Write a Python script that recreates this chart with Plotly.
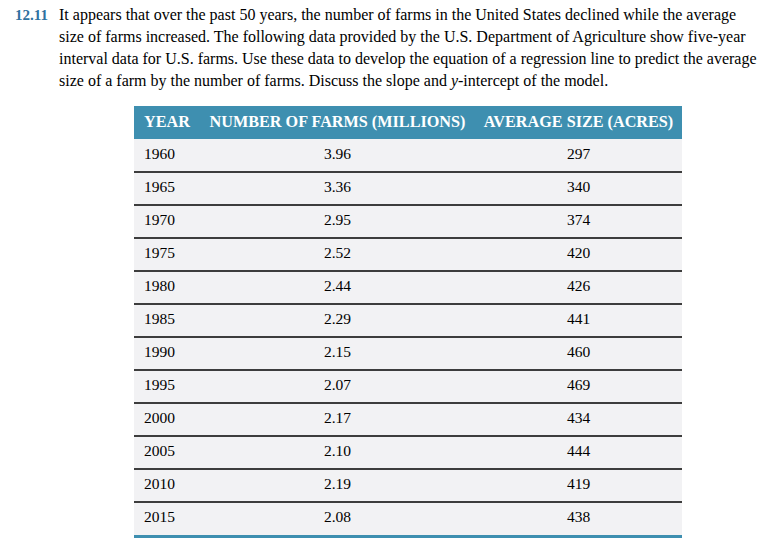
import plotly.graph_objects as go

# data from the table
years = [1960, 1965, 1970, 1975, 1980, 1985, 1990, 1995, 2000, 2005, 2010, 2015]
farms_millions = [3.96, 3.36, 2.95, 2.52, 2.44, 2.29, 2.15, 2.07, 2.17, 2.10, 2.19, 2.08]
avg_size_acres = [297, 340, 374, 420, 426, 441, 460, 469, 434, 444, 419, 438]
headers = ["YEAR", "NUMBER OF FARMS (MILLIONS)", "AVERAGE SIZE (ACRES)"]

problem_no = "12.11"
problem_lines = [
    "It appears that over the past 50 years, the number of farms in the United States declined while the average",
    "size of farms increased. The following data provided by the U.S. Department of Agriculture show five-year",
    "interval data for U.S. farms. Use these data to develop the equation of a regression line to predict the average",
    "size of a farm by the number of farms. Discuss the slope and <i>y</i>-intercept of the model.",
]

# page body has an 8px margin, so the figure is drawn from (8, 8)
OFF = 8
W, H = 778 - OFF, 549 - OFF
TEAL = "#3e8fb0"
BODY = "#f2f2f4"
FONT = "Times New Roman, Liberation Serif, serif"

# table geometry in screen pixels; the x axis runs in screen pixels
tbl_left, tbl_right = 134, 682
col_x = [144, 337.5, 578.5]
tbl_top, row_h = 106, 33.0
n_rows = len(years) + 1
extra = 0.25  # room below the last row for the bottom rule
tbl_bottom = tbl_top + (n_rows + extra) * row_h


def py(p):
    # screen pixel row -> paper y
    return 1 - (p - OFF) / H


fig = go.Figure()

rows = list(range(1, len(years) + 1))
fig.add_trace(go.Scatter(x=[col_x[0]] * len(years), y=rows, text=[str(y) for y in years],
                         mode="text", textposition="middle right",
                         textfont=dict(family=FONT, size=15.5, color="black")))
fig.add_trace(go.Scatter(x=[col_x[1]] * len(years), y=rows, text=[f"{v:.2f}" for v in farms_millions],
                         mode="text", textposition="middle center",
                         textfont=dict(family=FONT, size=15.5, color="black")))
fig.add_trace(go.Scatter(x=[col_x[2]] * len(years), y=rows, text=[str(v) for v in avg_size_acres],
                         mode="text", textposition="middle center",
                         textfont=dict(family=FONT, size=15.5, color="black")))
# header
fig.add_trace(go.Scatter(x=col_x, y=[0, 0, 0], text=[f"<b>{h}</b>" for h in headers],
                         mode="text", textposition=["middle right", "middle center", "middle center"],
                         textfont=dict(family=FONT, size=16.2, color="white")))

# backgrounds and rules
fig.add_shape(type="rect", xref="x", yref="y", x0=tbl_left, x1=tbl_right, y0=-0.5, y1=0.5,
              fillcolor=TEAL, line_width=0, layer="below")
fig.add_shape(type="rect", xref="x", yref="y", x0=tbl_left, x1=tbl_right, y0=0.5, y1=len(years) + 0.5,
              fillcolor=BODY, line_width=0, layer="below")
for r in rows[:-1]:
    fig.add_shape(type="line", xref="x", yref="y", x0=tbl_left, x1=tbl_right, y0=r + 0.5, y1=r + 0.5,
                  line=dict(color="black", width=1.3))
fig.add_shape(type="rect", xref="x", yref="y", x0=tbl_left, x1=tbl_right,
              y0=len(years) + 0.5, y1=len(years) + 0.5 + 3 / row_h,
              fillcolor=TEAL, line_width=0)

# problem text
fig.add_annotation(x=13, y=py(15), xref="x", yref="paper", text=f"<b>{problem_no}</b>",
                   showarrow=False, xanchor="left", yanchor="middle",
                   font=dict(family=FONT, size=15, color="#2f72a0"))
for i, line in enumerate(problem_lines):
    fig.add_annotation(x=57, y=py(15 + 22 * i), xref="x", yref="paper", text=line,
                       showarrow=False, xanchor="left", yanchor="middle",
                       font=dict(family=FONT, size=16, color="black"))

fig.update_layout(
    width=W, height=H, margin=dict(l=0, r=0, t=0, b=0),
    paper_bgcolor="white", plot_bgcolor="white", showlegend=False,
    xaxis=dict(range=[OFF, OFF + W], visible=False, fixedrange=True),
    yaxis=dict(range=[n_rows - 0.5 + extra, -0.5], visible=False, fixedrange=True,
               domain=[py(tbl_bottom), py(tbl_top)]),
)

fig.write_html("out.html", config={"displayModeBar": False})
